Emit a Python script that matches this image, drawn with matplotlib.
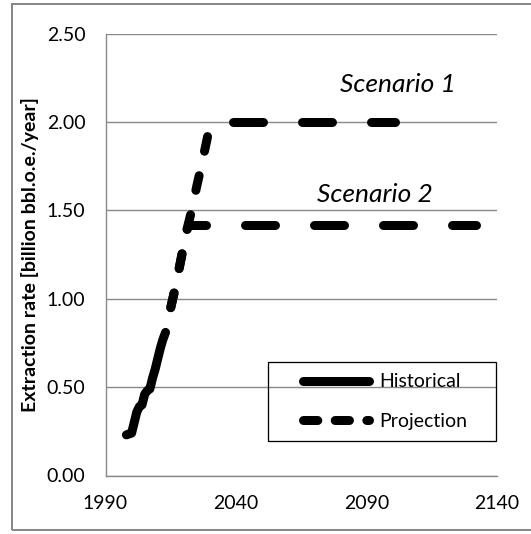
import matplotlib
matplotlib.use("Agg")
import matplotlib.pyplot as plt
from matplotlib.lines import Line2D
from matplotlib.patches import Rectangle
import numpy as np

plt.rcParams['font.family'] = ['Lato', 'DejaVu Sans']
plt.rcParams['lines.scale_dashes'] = False

# ---- data ----
hist_years = [1998, 1999, 2000, 2001, 2002, 2003, 2004, 2005, 2006, 2007,
              2008, 2009, 2010, 2011, 2012, 2013]
hist_values = [0.23, 0.235, 0.24, 0.30, 0.36, 0.39, 0.40, 0.46, 0.48, 0.49,
               0.55, 0.60, 0.66, 0.72, 0.77, 0.81]

s1_years = [2015, 2017, 2019, 2021, 2023, 2025, 2027, 2029, 2030, 2101]
s1_values = [0.95, 1.08, 1.23, 1.38, 1.50, 1.64, 1.77, 1.91, 2.00, 2.00]

s2_years = [2015, 2017, 2019, 2021, 2022, 2132]
s2_values = [0.95, 1.08, 1.23, 1.38, 1.42, 1.42]

x_ticks = [1990, 2040, 2090, 2140]
y_ticks = [0.0, 0.5, 1.0, 1.5, 2.0, 2.5]
y_label = "Extraction rate [billion bbl.o.e./year]"
legend_labels = ["Historical", "Projection"]
scenario_labels = ["Scenario 1", "Scenario 2"]

# ---- styles ----
W, H = 531, 534
DPI = 100
px = 72.0 / DPI
LW = 9 * px
GRID = '#898989'
FS = 14
rise_ls = (0, (15 * px, 25 * px))
flat_ls_s1 = (46 * px, (30 * px, 39 * px))
flat_ls_s2 = (13 * px, (30 * px, 39 * px))

fig = plt.figure(figsize=(W / DPI, H / DPI), dpi=DPI)
ax = fig.add_axes([105.5 / W, 1 - 475.5 / H, (497 - 105.5) / W, (475.5 - 33.8) / H])

ax.set_xlim(x_ticks[0], x_ticks[-1])
ax.set_ylim(y_ticks[0], y_ticks[-1])
ax.set_xticks(x_ticks)
ax.set_yticks(y_ticks)
ax.set_yticklabels([f"{v:.2f}" for v in y_ticks])
ax.tick_params(length=0, labelsize=FS, colors='black', pad=14)
ax.tick_params(axis='y', pad=14.5)
ax.yaxis.grid(True, color=GRID, linewidth=1.4 * px)
ax.set_axisbelow(True)
for s in ['top', 'right']:
    ax.spines[s].set_visible(False)
for s in ['left', 'bottom']:
    ax.spines[s].set_color(GRID)
    ax.spines[s].set_linewidth(1.4 * px)

common = dict(color='black', linewidth=LW, solid_capstyle='round', dash_capstyle='round',
              solid_joinstyle='round', dash_joinstyle='round')

ax.plot(hist_years, hist_values, linestyle='-', **common)


def plot_scenario(years, values, flat_ls):
    years = np.asarray(years, dtype=float)
    values = np.asarray(values, dtype=float)
    k = int(np.argmax(values >= values.max()))  # first plateau point
    ax.plot(years[:k + 1], values[:k + 1], linestyle=rise_ls, **common)
    ax.plot(years[k:], values[k:], linestyle=flat_ls, **common)


plot_scenario(s1_years, s1_values, flat_ls_s1)
plot_scenario(s2_years, s2_values, flat_ls_s2)

ax.text(2080.0, 2.17, scenario_labels[0], fontsize=19, style='italic', ha='left', va='baseline')
ax.text(2071.0, 1.55, scenario_labels[1], fontsize=19, style='italic', ha='left', va='baseline')

# legend
handles = [
    Line2D([], [], linestyle='-', **common),
    Line2D([], [], linestyle=(0, (10.3, 12.5)), **common),
]
leg = ax.legend(handles, legend_labels, loc='center left',
                bbox_to_anchor=((302.8 - 105.5) / 391.5, (475.5 - 401.65) / 441.7),
                frameon=False, borderpad=0, borderaxespad=0, fontsize=FS,
                handlelength=66 * px / FS, handletextpad=10 * px / FS, labelspacing=1.15)
ax.add_patch(Rectangle((0.4158, 0.0781), 0.9967 - 0.4158, 0.2563 - 0.0781,
                       transform=ax.transAxes, fill=False, edgecolor='black',
                       linewidth=1.3 * px, zorder=4, clip_on=False))
leg.set_zorder(5)

fig.text(30.5 / W, 1 - 254.7 / H, y_label, rotation=90, ha='center', va='center',
         fontsize=14, fontweight='bold')

# outer chart border
fig.patches.append(Rectangle((12 / W, 1 - 529.5 / H), 1.2, (529.5 - 4) / H,
                             transform=fig.transFigure, fill=False, edgecolor='#888888',
                             linewidth=2 * px))

fig.savefig('out.png', dpi=DPI)
